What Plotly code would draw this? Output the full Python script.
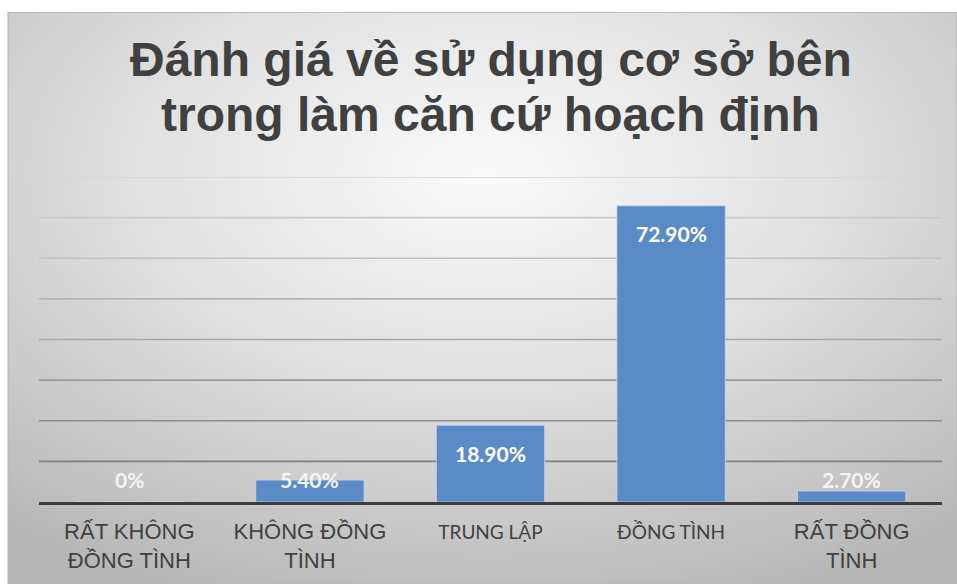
import base64
import plotly.graph_objects as go

# Survey answers and their shares (%)
categories = ["RẤT KHÔNG ĐỒNG TÌNH", "KHÔNG ĐỒNG TÌNH", "TRUNG LẬP", "ĐỒNG TÌNH", "RẤT ĐỒNG TÌNH"]
tick_labels = ["RẤT KHÔNG<br>ĐỒNG TÌNH", "KHÔNG ĐỒNG<br>TÌNH", "TRUNG LẬP", "ĐỒNG TÌNH", "RẤT ĐỒNG<br>TÌNH"]
tick_fonts = ["Liberation Sans", "Liberation Sans", "Lato", "Lato", "Liberation Sans"]
shares = [0, 5.4, 18.9, 72.9, 2.7]
grid_values = [10, 20, 30, 40, 50, 60, 70, 80]
title_lines = ["Đánh giá về sử dụng cơ sở bên", "trong làm căn cứ hoạch định"]

W, H = 957, 584
L, R, T, B = 39, 15, 177, 82
PW, PH = W - L - R, H - T - B

BAR = "#5b8bc6"
TEXT = "#404040"


def fmt(v):
    return "0%" if v == 0 else f"{v:.2f}%"


def px_x(p):
    return (p - L) / PW


def px_y(p):
    return (H - B - p) / PH


# soft radial backdrop of the chart area
svg = (
    '<svg xmlns="http://www.w3.org/2000/svg" width="949" height="572" viewBox="0 0 949 572" '
    'preserveAspectRatio="none">'
    '<defs><radialGradient id="g" cx="0.5" cy="0.28" r="0.8">'
    '<stop offset="0" stop-color="#fafafa"/>'
    '<stop offset="0.45" stop-color="#e1e1e1"/>'
    '<stop offset="1" stop-color="#b6b6b6"/>'
    '</radialGradient></defs>'
    '<rect width="949" height="572" fill="url(#g)"/></svg>'
)
bg_src = "data:image/svg+xml;base64," + base64.b64encode(svg.encode("utf-8")).decode("ascii")

fig = go.Figure()
fig.add_trace(go.Bar(
    x=categories,
    y=shares,
    marker=dict(color=BAR, line=dict(color="rgba(200,218,240,0.8)", width=1)),
    width=0.6,
    hoverinfo="skip",
))

# horizontal gridlines, fading lighter toward the top
grid_colors = ["#808080", "#8c8c8c", "#9a9a9a", "#a8a8a8", "#b4b4b4", "#c0c0c0", "#cacaca", "#d4d4d4"]
shapes = []
for gv, gc in zip(grid_values, grid_colors):
    shapes.append(dict(type="line", xref="paper", x0=0, x1=1, yref="y", y0=gv, y1=gv,
                       line=dict(color=gc, width=1.6), layer="below"))
# chart-area frame edge
shapes.append(dict(type="rect", xref="paper", yref="paper",
                   x0=px_x(8), x1=px_x(957), y0=px_y(584), y1=px_y(12.5),
                   line=dict(color="#b8b8b8", width=1.2), layer="below"))

annotations = []
for c, v in zip(categories, shares):
    if v >= 10:
        annotations.append(dict(x=c, y=v, xref="x", yref="y", text=f"<b>{fmt(v)}</b>",
                                showarrow=False, yanchor="middle", yshift=-28,
                                font=dict(family="Lato", size=21, color="white")))
    else:
        annotations.append(dict(x=c, y=0, xref="x", yref="y", text=f"<b>{fmt(v)}</b>",
                                showarrow=False, yanchor="middle", yshift=23,
                                font=dict(family="Lato", size=21, color="#f4f4f4")))

for line, py in zip(title_lines, [60, 114]):
    annotations.append(dict(x=0.5, y=px_y(py), xref="paper", yref="paper", text=f"<b>{line}</b>",
                            showarrow=False, xanchor="center", yanchor="middle",
                            font=dict(family="Liberation Sans", size=48, color=TEXT)))

ticktext = []
for lab, fam in zip(tick_labels, tick_fonts):
    size = 19 if fam == "Lato" else 22
    ticktext.append(f'<span style="font-family:{fam};font-size:{size}px">{lab}</span>')

fig.update_layout(
    width=W, height=H,
    margin=dict(l=L, r=R, t=T, b=B),
    paper_bgcolor="white",
    plot_bgcolor="rgba(0,0,0,0)",
    showlegend=False,
    shapes=shapes,
    annotations=annotations,
    images=[dict(source=bg_src, xref="paper", yref="paper",
                 x=px_x(8), y=px_y(12.5), sizex=(957 - 8) / PW, sizey=(584 - 12.5) / PH,
                 xanchor="left", yanchor="top", sizing="stretch", layer="below")],
    xaxis=dict(
        type="category",
        tickvals=categories,
        ticktext=ticktext,
        showline=True, linecolor="#3c3c3c", linewidth=3,
        showgrid=False, ticks="", zeroline=False,
        tickfont=dict(family="Liberation Sans", size=22, color=TEXT),
        ticklabelstandoff=8,
    ),
    yaxis=dict(
        range=[0, 80],
        showgrid=False, zeroline=False, showticklabels=False, ticks="",
    ),
    bargap=0.4,
)

fig.write_html("out.html")
